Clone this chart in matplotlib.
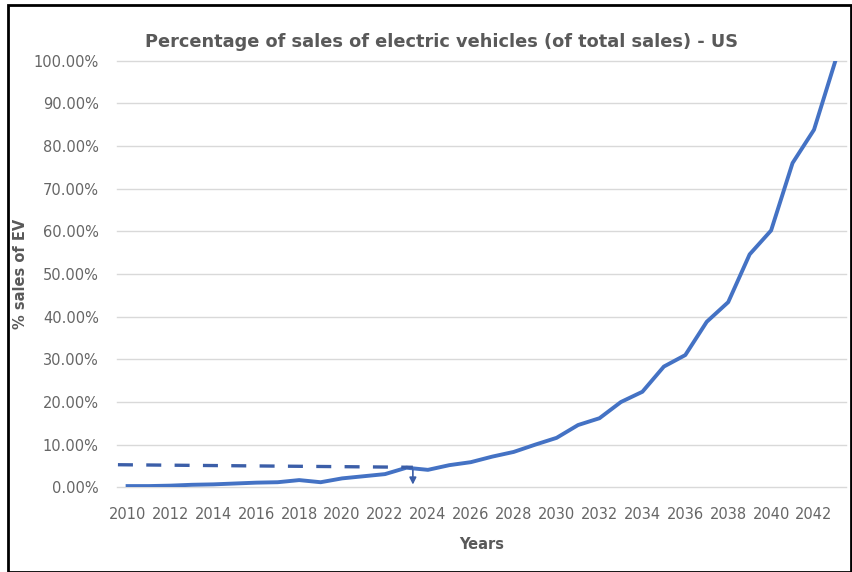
import matplotlib.pyplot as plt
from matplotlib.patches import Rectangle
from matplotlib.ticker import PercentFormatter

# Data (share of EV sales, fraction of total)
years = list(range(2010, 2044))
ev_share = [0.003, 0.003, 0.004, 0.006, 0.007, 0.009, 0.011, 0.012, 0.017, 0.012,
            0.021, 0.026, 0.031, 0.046, 0.041, 0.052, 0.059, 0.072, 0.083, 0.100,
            0.116, 0.146, 0.162, 0.200, 0.224, 0.283, 0.310, 0.388, 0.434, 0.546,
            0.602, 0.760, 0.838, 1.000]
tick_years = years[::2]

# Dashed marker for the current level, with a down arrow at mid-2023
marker_years = [2009.55, 2023.3]
marker_level = [0.053, 0.047]

blue = "#4472C4"
grey = "#595959"

plt.rcParams["font.family"] = ["DejaVu Sans"]

fig = plt.figure(figsize=(8.53, 5.72), dpi=100)
ax = fig.add_axes([0.137, 0.148, 0.855, 0.746])

ax.plot(years, ev_share, color=blue, linewidth=2.8, solid_joinstyle="round")
ax.plot(marker_years, marker_level, color="#3B5EA8", linewidth=2.4, linestyle=(0, (4.5, 4)))
ax.annotate("", xy=(marker_years[1], 0.0), xytext=(marker_years[1], marker_level[1]),
            arrowprops=dict(arrowstyle="-|>", color="#3B5EA8", lw=1.2, mutation_scale=10))

ax.set_xlim(2009.5, 2043.5)
ax.set_ylim(0, 1.0)
ax.set_yticks([i / 10 for i in range(11)])
ax.yaxis.set_major_formatter(PercentFormatter(1.0, decimals=2))
ax.set_xticks(tick_years)
ax.set_xticklabels([str(y) for y in tick_years])
ax.tick_params(length=0, labelsize=10.5, labelcolor="#666666")
ax.tick_params(axis="y", pad=13)
ax.tick_params(axis="x", pad=14)
ax.grid(axis="y", color="#D9D9D9", linewidth=1.0)
ax.set_axisbelow(True)
for gl in ax.get_ygridlines():
    gl.set_clip_on(False)
for s in ax.spines.values():
    s.set_visible(False)

ax.set_xlabel("Years", fontsize=10.5, fontweight="bold", color=grey)
ax.xaxis.set_label_coords(0.5, -0.117)
ax.set_ylabel("% sales of EV", fontsize=10.5, fontweight="bold", color=grey)
ax.yaxis.set_label_coords(-0.122, 0.5)
fig.text(0.517, 0.926, "Percentage of sales of electric vehicles (of total sales) - US",
         ha="center", va="center", fontsize=12.8, fontweight="bold", color=grey)

# black frame around the chart
fig.patches.append(Rectangle((0.009, 0.0), 0.989, 0.992, transform=fig.transFigure,
                             fill=False, edgecolor="black", linewidth=2))

fig.savefig("out.png", dpi=100)
